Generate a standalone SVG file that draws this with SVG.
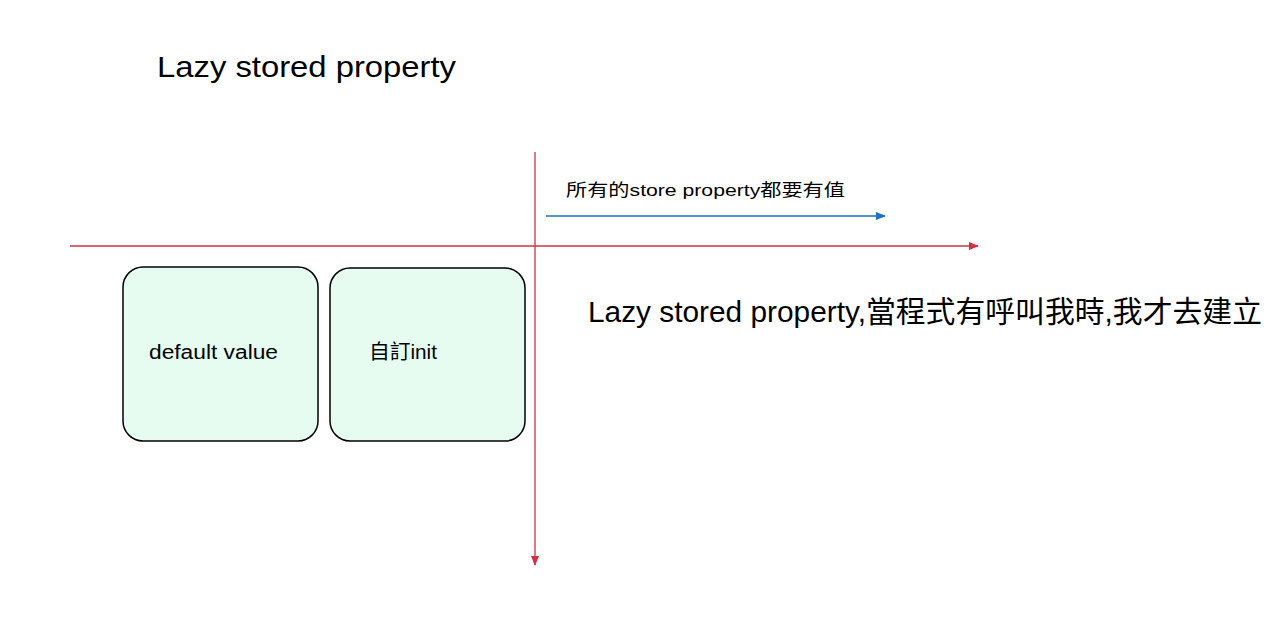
<svg xmlns="http://www.w3.org/2000/svg" width="1275" height="629" viewBox="0 0 1275 629">
<style>
text{font-family:"Liberation Sans","Noto Sans CJK TC",sans-serif;fill:#000}
.box{fill:#e6fcf0;stroke:#000;stroke-width:1.5}
.red{stroke:#cc3344;stroke-width:1.3;fill:none}
.blue{stroke:#1a73c4;stroke-width:1.6;fill:none}
</style>
<defs>
<marker id="ar" viewBox="0 0 10 8" refX="9" refY="4" markerUnits="userSpaceOnUse" markerWidth="10" markerHeight="8" orient="auto"><path d="M0,0L10,4L0,8z" fill="#cc3344"/></marker>
<marker id="ab" viewBox="0 0 10 8" refX="9" refY="4" markerUnits="userSpaceOnUse" markerWidth="10" markerHeight="8" orient="auto"><path d="M0,0L10,4L0,8z" fill="#1a73c4"/></marker>
</defs>
<rect width="1275" height="629" fill="#fff"/>
<text id="title" x="157" y="77" font-size="30" textLength="299" lengthAdjust="spacingAndGlyphs">Lazy stored property</text>
<g id="connectors">
<line class="red" x1="535" y1="152" x2="535" y2="565" marker-end="url(#ar)"/>
<line class="red" x1="70" y1="246" x2="978" y2="246" marker-end="url(#ar)"/>
<line class="blue" x1="546" y1="216" x2="885" y2="216" marker-end="url(#ab)"/>
</g>
<text id="label-blue" x="566" y="196" font-size="17" textLength="279" lengthAdjust="spacingAndGlyphs">所有的store property都要有值</text>
<g id="node-default">
<rect class="box" x="123" y="267" width="195" height="174" rx="20"/>
<text x="149" y="359" font-size="20" textLength="129" lengthAdjust="spacingAndGlyphs">default value</text>
</g>
<g id="node-init">
<rect class="box" x="330" y="268" width="195" height="173" rx="20"/>
<text x="369" y="359" font-size="20" textLength="68" lengthAdjust="spacingAndGlyphs">自訂init</text>
</g>
<text id="note" x="588" y="322" font-size="30" textLength="674" lengthAdjust="spacingAndGlyphs">Lazy stored property,當程式有呼叫我時,我才去建立</text>
</svg>
